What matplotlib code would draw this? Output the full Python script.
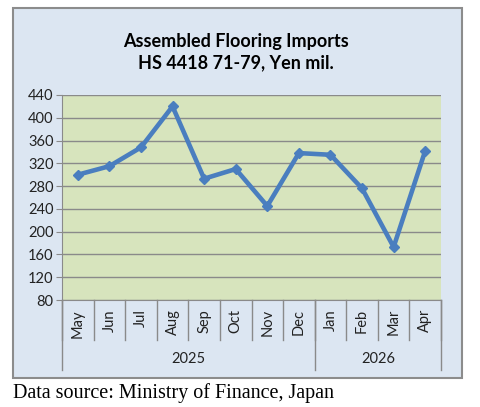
import matplotlib.pyplot as plt
from matplotlib.patches import Rectangle
from matplotlib.transforms import blended_transform_factory

# Chart data
months = ["May", "Jun", "Jul", "Aug", "Sep", "Oct", "Nov", "Dec",
          "Jan", "Feb", "Mar", "Apr"]
values = [300, 315, 348, 420, 293, 310, 245, 338, 335, 276, 173, 342]
years = ["2025", "2026"]
year_counts = [8, 4]
yticks = [80, 120, 160, 200, 240, 280, 320, 360, 400, 440]

W, H = 480, 407
fig = plt.figure(figsize=(W / 100, H / 100), dpi=100)
fig.patch.set_facecolor("white")

# Outer chart frame (behind the axes)
fig.patches.append(Rectangle((13 / W, 1 - 378 / H), 449 / W, 370 / H,
                             transform=fig.transFigure, facecolor="#DCE6F2",
                             edgecolor="#8C8C8C", linewidth=1.5, zorder=-1))

# Plot area
ax = fig.add_axes([62 / W, 1 - 300 / H, 379 / W, 205 / H])
ax.set_zorder(1)
ax.set_facecolor("#D7E4BD")
x = list(range(len(months)))
ax.plot(x, values, color="#4A7EBF", linewidth=3.3, marker="D", markersize=5,
        zorder=3, clip_on=False)

ax.set_xlim(-0.5, len(months) - 0.5)
ax.set_ylim(yticks[0], yticks[-1])
ax.set_yticks(yticks)
ax.yaxis.grid(True, color="#8A8A8A", linewidth=1)
ax.set_axisbelow(True)
ax.tick_params(axis="y", length=4, color="#8A8A8A", labelsize=10.5,
               labelcolor="#222222", pad=2)
for lbl in ax.get_yticklabels():
    lbl.set_family("Lato")
ax.set_xticks([])
for s in ["top", "right"]:
    ax.spines[s].set_visible(False)
for s in ["left", "bottom"]:
    ax.spines[s].set_color("#8A8A8A")

# Category axis: month labels, separators and year groups
tr = blended_transform_factory(ax.transData, ax.transAxes)
px = 1 / 205
for i, m in enumerate(months):
    ax.text(i, -9 * px, m, rotation=90, ha="center", va="top", fontsize=10.5,
            family="Lato", color="#222222", transform=tr)
for i in range(len(months) + 1):
    ax.plot([i - 0.5, i - 0.5], [0, -40 * px], color="#8A8A8A", linewidth=1,
            transform=tr, clip_on=False)
start = 0
bounds = [0]
for yr, n in zip(years, year_counts):
    ax.text(start + n / 2 - 0.5, -59 * px, yr, ha="center", va="center",
            fontsize=10.5, family="Lato", color="#222222", transform=tr)
    start += n
    bounds.append(start)
for b in bounds:
    ax.plot([b - 0.5, b - 0.5], [0, -70 * px], color="#8A8A8A", linewidth=1,
            transform=tr, clip_on=False)

# Titles
fig.text(236 / W, 1 - 42 / H, "Assembled Flooring Imports", ha="center",
         va="center", fontsize=13, fontweight="bold", family="Lato")
fig.text(236 / W, 1 - 63 / H, "HS 4418 71-79, Yen mil.", ha="center",
         va="center", fontsize=13, fontweight="bold", family="Lato")

# Source note
fig.text(13 / W, 1 - 393 / H, "Data source: Ministry of Finance, Japan",
         ha="left", va="center", fontsize=14.5, family="Liberation Serif")

fig.savefig("out.png", dpi=100)
